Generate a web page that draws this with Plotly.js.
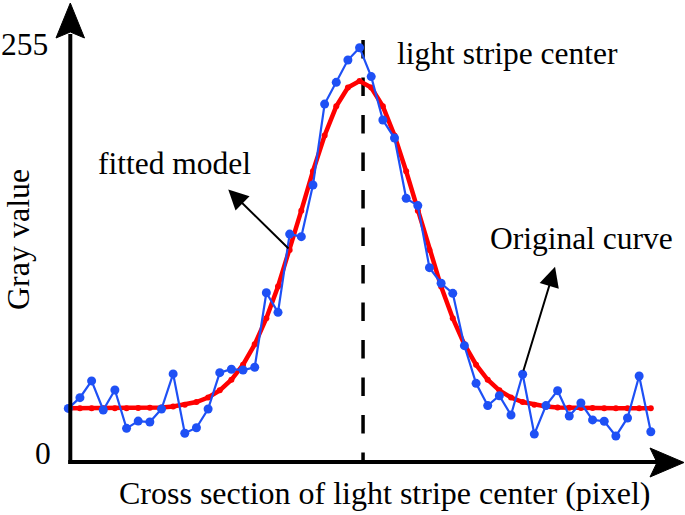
<!DOCTYPE html>
<html>
<head>
<meta charset="utf-8">
<script src="https://cdn.plot.ly/plotly-3.0.1.min.js"></script>
<style>html,body{margin:0;padding:0;background:#fff;}#chart{width:685px;height:515px;}</style>
</head>
<body>
<div id="chart"></div>
<script>
// pixel index across the stripe cross section
const pixelIndex = Array.from({length: 51}, (_, i) => i);
// original gray values (blue)
const originalGray = [33.0, 39.6, 49.9, 32.0, 44.3, 20.7, 25.2, 24.6, 32.6, 54.2,
  17.7, 21.1, 32.6, 55.0, 57.1, 56.6, 58.3, 104.2, 92.1, 140.3,
  138.7, 170.5, 220.3, 233.7, 247.4, 255.0, 237.2, 210.5, 199.4, 162.3,
  157.8, 119.6, 110.0, 103.8, 71.6, 48.4, 34.7, 40.8, 28.9, 54.0,
  17.2, 34.7, 43.9, 28.3, 36.3, 25.9, 25.1, 16.0, 27.1, 52.9, 18.6];
// fitted model gray values (red)
const fittedGray = [33.1, 33.1, 33.1, 33.1, 33.1, 33.1, 33.2, 33.4, 33.6, 34.2,
  35.2, 36.9, 39.7, 44.1, 50.6, 59.9, 72.4, 88.5, 108.0, 130.5,
  154.7, 179.0, 201.0, 218.9, 230.5, 234.5, 230.5, 218.9, 201.0, 179.0,
  154.7, 130.5, 108.0, 88.5, 72.4, 59.9, 50.6, 44.1, 39.7, 36.9,
  35.2, 34.2, 33.6, 33.4, 33.3, 33.2, 33.1, 33.1, 33.1, 33.1, 33.1];
const centerIndex = 25.3;
const yTickLabels = ["255", "0"];
const labels = {
  center: "light stripe center",
  fitted: "fitted model",
  original: "Original curve",
  xTitle: "Cross section of light stripe center (pixel)",
  yTitle: "Gray value"
};

const W = 685, H = 515;
const px = v => v / W;          // pixel x -> paper
const py = v => 1 - v / H;      // pixel y -> paper
const FONT = {family: '"Liberation Serif", "Times New Roman", serif', size: 31.5, color: '#000'};
const TITLE_FONT = {family: '"Liberation Serif", "Times New Roman", serif', size: 32, color: '#000'};

const traces = [
  {x: pixelIndex, y: fittedGray, type: 'scatter', mode: 'lines+markers',
   line: {color: 'rgb(255,0,0)', width: 4.5}, marker: {color: 'rgb(255,0,0)', size: 6},
   hoverinfo: 'skip'},
  {x: pixelIndex, y: originalGray, type: 'scatter', mode: 'lines+markers',
   line: {color: 'rgb(30,80,245)', width: 2.2}, marker: {color: 'rgb(30,80,245)', size: 9},
   hoverinfo: 'skip'}
];

const shapes = [
  // dashed center line
  {type: 'line', xref: 'x', yref: 'y', x0: centerIndex, x1: centerIndex, y0: 259.7, y1: 0,
   line: {color: '#000', width: 3.5, dash: '18.5px,19px'}, layer: 'below'},
  // y axis line
  {type: 'line', xref: 'paper', yref: 'paper', x0: px(70.3), x1: px(70.3), y0: py(464), y1: py(34),
   line: {color: '#000', width: 4}},
  // x axis line
  {type: 'line', xref: 'paper', yref: 'paper', x0: px(68.3), x1: px(660), y0: py(462), y1: py(462),
   line: {color: '#000', width: 4}},
  // y arrow head
  {type: 'path', xref: 'paper', yref: 'paper',
   path: `M ${px(70.3)} ${py(3)} L ${px(84.5)} ${py(38)} L ${px(70.3)} ${py(32)} L ${px(56)} ${py(38)} Z`,
   fillcolor: '#000', line: {color: '#000', width: 1}},
  // x arrow head
  {type: 'path', xref: 'paper', yref: 'paper',
   path: `M ${px(684)} ${py(462.5)} L ${px(650)} ${py(448)} L ${px(657)} ${py(462.5)} L ${px(650)} ${py(477)} Z`,
   fillcolor: '#000', line: {color: '#000', width: 1}}
];

const annotations = [
  {text: labels.center, xref: 'paper', yref: 'paper', x: px(507), y: py(53.3), showarrow: false, font: FONT, xanchor: 'center', yanchor: 'middle'},
  {text: labels.fitted, xref: 'paper', yref: 'paper', x: px(174.5), y: py(163.3), showarrow: false, font: FONT, xanchor: 'center', yanchor: 'middle'},
  {text: labels.original, xref: 'paper', yref: 'paper', x: px(581.7), y: py(238.3), showarrow: false, font: FONT, xanchor: 'center', yanchor: 'middle'},
  {text: yTickLabels[0], xref: 'paper', yref: 'paper', x: px(24.5), y: py(45), showarrow: false, font: FONT, xanchor: 'center', yanchor: 'middle'},
  {text: yTickLabels[1], xref: 'paper', yref: 'paper', x: px(42.5), y: py(453), showarrow: false, font: FONT, xanchor: 'center', yanchor: 'middle'},
  {text: labels.xTitle, xref: 'paper', yref: 'paper', x: px(384), y: py(493), showarrow: false, font: TITLE_FONT, xanchor: 'center', yanchor: 'middle'},
  {text: labels.yTitle, xref: 'paper', yref: 'paper', x: px(18), y: py(240), showarrow: false, font: TITLE_FONT, textangle: -90, xanchor: 'center', yanchor: 'middle'},
  // arrows
  {text: '', xref: 'x', yref: 'y', axref: 'x', ayref: 'y', x: 13.73, y: 167.8, ax: 19.03, ay: 130.5,
   showarrow: true, arrowhead: 2, arrowsize: 2, arrowwidth: 2, arrowcolor: '#000', standoff: 0},
  {text: '', xref: 'x', yref: 'y', axref: 'x', ayref: 'y', x: 41.78, y: 120.2, ax: 39.03, ay: 55.4,
   showarrow: true, arrowhead: 2, arrowsize: 2, arrowwidth: 2, arrowcolor: '#000', standoff: 0}
];

const layout = {
  width: W, height: H,
  margin: {l: 0, r: 0, t: 0, b: 0, pad: 0},
  paper_bgcolor: '#fff', plot_bgcolor: 'rgba(0,0,0,0)',
  showlegend: false,
  xaxis: {visible: false, range: [-5.863, 52.935], fixedrange: true},
  yaxis: {visible: false, range: [-32.62, 284.36], fixedrange: true},
  shapes: shapes,
  annotations: annotations
};

Plotly.newPlot('chart', traces, layout, {displayModeBar: false, staticPlot: true});
</script>
</body>
</html>
